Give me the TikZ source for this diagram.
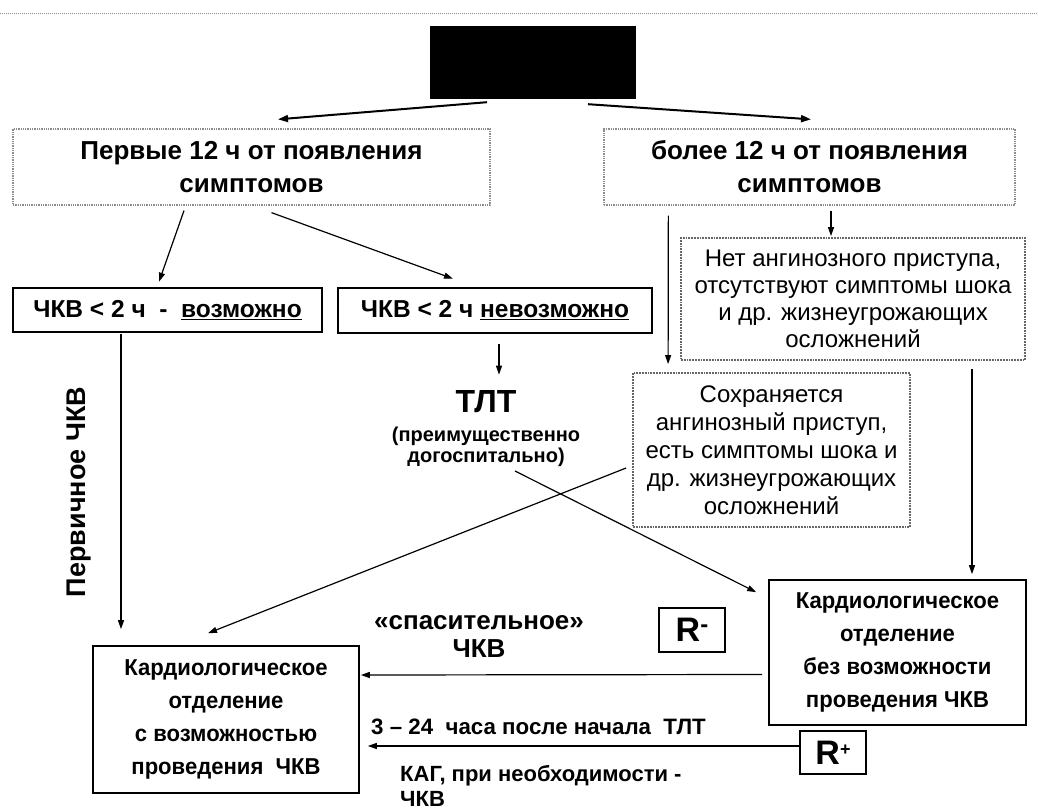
\documentclass[tikz,border=0pt]{standalone}
\usepackage{fontspec}
\setmainfont{Liberation Sans}
\newfontfamily\narrowf[FakeStretch=0.96]{Liberation Sans}
\usetikzlibrary{arrows.meta,calc}
\begin{document}
\begin{tikzpicture}[x=1pt,y=-1pt,
  arr/.style={-{Triangle[length=9pt,width=6pt]}, line width=1.2pt},
  thickarr/.style={-{Triangle[length=10pt,width=7pt]}, line width=2pt},
  topbox/.style={draw=black!45, densely dotted, line width=1.3pt, inner sep=0pt, align=center,
     font=\fontsize{26}{33}\selectfont\bfseries},
  dotbox/.style={draw=black!60, densely dotted, line width=1.8pt, inner sep=0pt, align=center,
     font=\fontsize{24}{27}\selectfont},
  thickbox/.style={draw, line width=2.6pt, inner sep=0pt, align=center,
     font=\fontsize{24.5}{28}\selectfont\bfseries},
  solidbox/.style={draw, line width=1.6pt, inner sep=0pt, align=center,
     font=\narrowf\fontsize{23}{33}\selectfont\bfseries},
  rbox/.style={draw, line width=1.6pt, inner sep=0pt, minimum width=66pt, minimum height=44pt,
     font=\fontsize{34}{34}\selectfont\bfseries},
  lbl/.style={inner sep=0pt, align=center, font=\fontsize{26}{28}\selectfont\bfseries}
]
\useasboundingbox (0,0) rectangle (1038,810);
\fill[white] (0,0) rectangle (1038,810);
\draw[black!45, densely dotted, line width=1pt] (0,14) -- (1038,14);

% nodes
\node[fill=black, minimum width=206pt, minimum height=73pt, inner sep=0pt] (top) at (533,62.5) {};
\node[topbox, minimum width=477pt, minimum height=76pt] (L1) at (251.5,167) {Первые 12 ч от появления\\симптомов};
\node[topbox, minimum width=411pt, minimum height=76pt] (R1) at (809.5,167) {более 12 ч от появления\\симптомов};
\node[thickbox, minimum width=309pt, minimum height=44pt] (A) at (167.5,310) {ЧКВ < 2 ч\ \ -\ \ \underline{возможно}};
\node[thickbox, minimum width=314pt, minimum height=45pt] (B) at (495,310.5) {ЧКВ < 2 ч \underline{невозможно}};
\node[dotbox, minimum width=344pt, minimum height=122pt] (Net) at (853,299) {Нет ангинозного приступа,\\отсутствуют симптомы шока\\и др. жизнеугрожающих\\осложнений};
\node[dotbox, minimum width=277pt, minimum height=154pt, font=\fontsize{24}{28}\selectfont] (Sokh) at (771.5,450) {Сохраняется\\ангинозный приступ,\\есть симптомы шока и\\др. жизнеугрожающих\\осложнений};
\node[inner sep=1pt, font=\fontsize{32}{32}\selectfont\bfseries] (TLT) at (486,402) {ТЛТ};
\node[inner sep=0pt, align=center, font=\fontsize{20}{21}\selectfont\bfseries] (pre) at (486,447) {(преимущественно\\догоспитально)};
\node[solidbox, minimum width=266pt, minimum height=147pt] (C) at (226,719.5) {Кардиологическое\\отделение\\с возможностью\\проведения\ \ ЧКВ};
\node[solidbox, minimum width=257pt, minimum height=145pt] (D) at (897.5,652.5) {Кардиологическое\\отделение\\без возможности\\проведения ЧКВ};
\node[rbox] (Rm) at (692,630) {R\raisebox{9pt}{\fontsize{24}{24}\selectfont -}};
\node[rbox, minimum height=43pt] (Rp) at (833,752.5) {R\raisebox{9pt}{\fontsize{18}{18}\selectfont +}};

% labels
\node[lbl, rotate=90, font=\fontsize{27}{27}\selectfont\bfseries] (perv) at (79,492) {Первичное ЧКВ};
\node[lbl] (spas) at (479,636) {«спасительное»\\ЧКВ};
\node[lbl, anchor=west, font=\fontsize{22.3}{26}\selectfont\bfseries] (hrs) at (371,727) {3 – 24\ \ часа после начала\ \ ТЛТ};
\node[lbl, anchor=west, align=left, font=\fontsize{22}{25}\selectfont\bfseries] (kag) at (400,785.5) {КАГ, при необходимости -\\ЧКВ};

% connectors
\draw[thickarr] ($(top.south)+(-46,3)$) -- ($(L1.north)+(26.5,-9)$);
\draw[thickarr] ($(top.south)+(55,5)$) -- ($(R1.north)+(1.5,-9)$);
\draw[arr] ($(L1.south)+(-67.5,5)$) -- ($(A.north)+(-8.5,-5)$);
\draw[arr] ($(L1.south)+(20,7)$) -- ($(B.north)+(-42,-8)$);
\draw[arr] ($(B.south)+(4,10)$) -- ($(TLT.north)+(13,-15)$);
\draw[arr] ($(R1.south west)+(65,10)$) -- ($(Sokh.north west)+(36,-8)$);
\draw[arr] ($(R1.south)+(21.5,5)$) -- ($(Net.north)+(-22,-1)$);
\draw[arr] ($(Net.south)+(119,8)$) -- ($(D.north)+(74.5,-5)$);
\draw[arr] ($(A.south)+(-46.5,1)$) -- ($(C.north)+(-105,-16)$);
\draw[arr] ($(Sokh.west)+(-6,18)$) -- ($(C.north)+(-18,-12)$);
\draw[arr] ($(pre.south)+(29,4)$) -- ($(D.north west)+(-12,13)$);
\draw[arr] ($(D.west)+(-6,22)$) -- ($(C.east)+(1,-44.5)$);
\draw[arr] ($(Rp.west)+(0,-6.5)$) -- ($(C.east)+(8,26.5)$);
\end{tikzpicture}
\end{document}
